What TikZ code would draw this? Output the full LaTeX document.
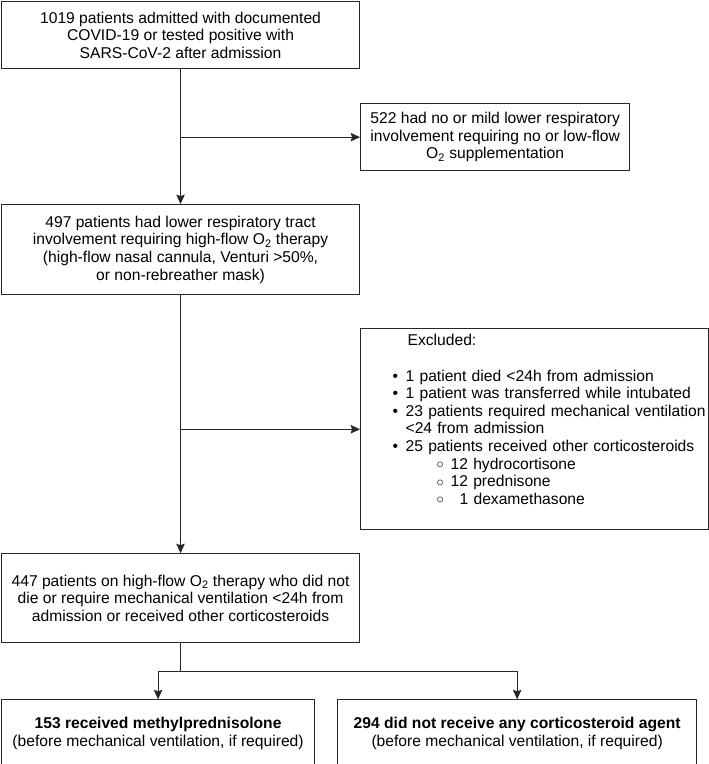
\documentclass[tikz,border=0pt]{standalone}
\usepackage{fontspec}
\setmainfont{Liberation Sans}
\usetikzlibrary{positioning, arrows.meta}

\newcommand{\bul}{\hspace*{32bp}\makebox[13bp][l]{\textbullet}}
\newcommand{\subbul}{\hspace*{76bp}\makebox[14bp][l]{\raisebox{0.5bp}{$\circ$}}}

\begin{document}
\begin{tikzpicture}[
		>={Stealth[length=9.5bp,width=8.5bp,inset=1.5bp]},
		box/.style={draw=black!85, line width=1.1bp, align=center, inner sep=0pt, font=\fontsize{15.7}{17.7}\selectfont},
		arrow/.style={->, draw=black!85, line width=1.1bp},
		link/.style={draw=black!85, line width=1.1bp}
		]
		\useasboundingbox (0,0) rectangle (709bp,-764bp);
		
		% ==========================================
		% MAIN COLUMN
		% ==========================================
		\node[box, anchor=north west, minimum width=358bp, minimum height=67bp] (admitted) at (1bp,-1bp) {
			1019 patients admitted with documented\\
			COVID-19 or tested positive with\\
			SARS-CoV-2 after admission
		};
		
		\node[box, below=135bp of admitted, minimum width=358bp, minimum height=90bp] (highflow) {
			497 patients had lower respiratory tract\\
			involvement requiring high-flow O\textsubscript{2} therapy\\
			(high-flow nasal cannula, Venturi >50\%,\\
			or non-rebreather mask)
		};
		
		\node[box, below=258bp of highflow, minimum width=358bp, minimum height=89bp] (eligible) {
			447 patients on high-flow O\textsubscript{2} therapy who did not\\
			die or require mechanical ventilation <24h from\\
			admission or received other corticosteroids
		};
		
		% ==========================================
		% SIDE BOXES
		% ==========================================
		\node[box, below right=34bp and 0bp of admitted.south east, anchor=north west, minimum width=269bp, minimum height=67bp] (mild) {
			522 had no or mild lower respiratory\\
			involvement requiring no or low-flow\\
			O\textsubscript{2} supplementation
		};
		
		\node[box, below right=33bp and 0bp of highflow.south east, anchor=north west, align=left, text width=348bp, minimum height=201bp] (excluded) {
			\hspace*{47bp}Excluded:\\[17.7bp]
			\bul 1 patient died <24h from admission\\
			\bul 1 patient was transferred while intubated\\
			\bul 23 patients required mechanical ventilation\\
			\hspace*{45bp}<24 from admission\\
			\bul 25 patients received other corticosteroids\\
			\subbul 12 hydrocortisone\\
			\subbul 12 prednisone\\
			\subbul\hspace*{9bp}1 dexamethasone\\[2bp]
			\mbox{}
		};
		
		% ==========================================
		% TREATMENT GROUPS
		% ==========================================
		\node[box, below right=56bp and 0bp of eligible.south west, anchor=north west, minimum width=313bp, minimum height=67bp] (methylpred) {
			\textbf{153 received methylprednisolone}\\
			(before mechanical ventilation, if required)
		};
		
		\node[box, right=22bp of methylpred, minimum width=359bp, minimum height=67bp] (nosteroid) {
			\textbf{294 did not receive any corticosteroid agent}\\
			(before mechanical ventilation, if required)
		};
		
		% ==========================================
		% CONNECTORS
		% ==========================================
		\draw[arrow] (admitted) -- (highflow);
		\coordinate (split1) at (admitted.south |- mild.west);
		\draw[arrow] (split1) -- (mild);
		
		\draw[arrow] (highflow) -- (eligible);
		\coordinate (split2) at (highflow.south |- excluded.west);
		\draw[arrow] (split2) -- (excluded);
		
		\coordinate (split3) at ([yshift=-28bp]eligible.south);
		\draw[link] (eligible) -- (split3);
		\draw[arrow] (split3) -| (methylpred);
		\draw[arrow] (split3) -| (nosteroid);
		
	\end{tikzpicture}
\end{document}
